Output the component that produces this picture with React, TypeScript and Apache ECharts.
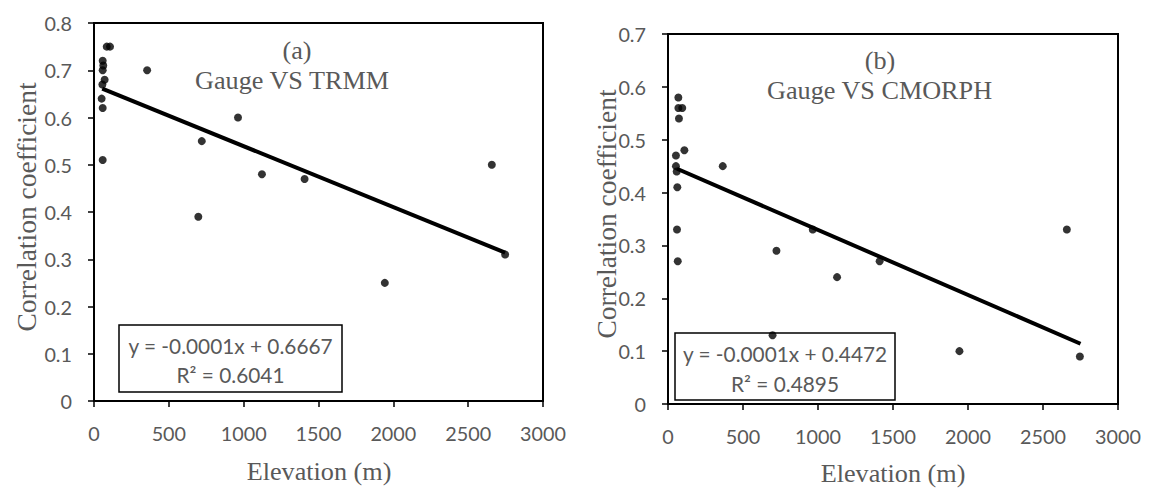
import React, { useEffect, useRef } from "react";
import * as echarts from "echarts";

// Chart (a): Gauge VS TRMM
const elevA = [85, 107, 58, 62, 58, 71, 56, 51, 58, 58, 355, 697, 720, 962, 1122, 1407, 1943, 2658, 2747];
const corrA = [0.75, 0.75, 0.72, 0.71, 0.7, 0.68, 0.67, 0.64, 0.62, 0.51, 0.7, 0.39, 0.55, 0.6, 0.48, 0.47, 0.25, 0.5, 0.31];
const trendAX = [55, 2747];
const trendAY = [0.661, 0.314];

// Chart (b): Gauge VS CMORPH
const elevB = [69, 69, 95, 73, 109, 53, 53, 58, 62, 60, 65, 365, 697, 723, 965, 1127, 1411, 1943, 2659, 2746];
const corrB = [0.58, 0.56, 0.56, 0.54, 0.48, 0.47, 0.45, 0.44, 0.41, 0.33, 0.27, 0.45, 0.13, 0.29, 0.33, 0.24, 0.27, 0.1, 0.33, 0.09];
const trendBX = [60, 2750];
const trendBY = [0.445, 0.114];

const xMin = 0;
const xMax = 3000;
const xStep = 500;
const yMaxA = 0.8;
const yMaxB = 0.7;
const yStep = 0.1;

const eqA = ["y = -0.0001x + 0.6667", "R² = 0.6041"];
const eqB = ["y = -0.0001x + 0.4472", "R² = 0.4895"];

const SANS = "Lato, 'Open Sans', sans-serif";
const SERIF = "'Liberation Serif', 'DejaVu Serif', serif";
const GRAY = "#595959";

function measure(text: string, family: string) {
  const ctx = document.createElement("canvas").getContext("2d");
  if (!ctx) return 0;
  ctx.font = `100px ${family}`;
  return ctx.measureText(text).width;
}
function fit(text: string, family: string, target: number, fallback: number) {
  const w = measure(text, family);
  if (!w) return fallback;
  return Math.round((target / w) * 1000) / 10;
}

function xAxisCfg(gridIndex: number, fs: number) {
  return {
    type: "value",
    gridIndex,
    min: xMin,
    max: xMax,
    interval: xStep,
    axisLine: { show: true, lineStyle: { color: "#000", width: 2 } },
    axisTick: { show: true, inside: false, length: 6, lineStyle: { color: "#000", width: 1.5 } },
    axisLabel: { color: GRAY, fontFamily: SANS, fontSize: fs, margin: 22, formatter: (v: number) => String(v) },
    splitLine: { show: false },
  };
}

function yAxisCfg(gridIndex: number, max: number, fs: number) {
  return {
    type: "value",
    gridIndex,
    min: 0,
    max,
    interval: yStep,
    axisLine: { show: true, lineStyle: { color: "#000", width: 2 } },
    axisTick: { show: true, inside: false, length: 6, lineStyle: { color: "#000", width: 1.5 } },
    axisLabel: {
      color: GRAY,
      fontFamily: SANS,
      fontSize: fs,
      margin: 22,
      formatter: (v: number) => (v === 0 ? "0" : String(Math.round(v * 10) / 10)),
    },
    splitLine: { show: false },
  };
}

function pairs(xs: number[], ys: number[]) {
  return xs.map((x, i) => [x, ys[i]]);
}

export default function App() {
  const ref = useRef<HTMLDivElement>(null);
  useEffect(() => {
    if (!ref.current) return;
    const tickFs = fit("1000", SANS, 46, 22);
    const eqFs = fit(eqA[0], SANS, 205, 23);
    const titleFs = fit("Elevation (m)", SERIF, 145, 26);
    const corrFs = fit("Correlation coefficient", SERIF, 249, 27);
    const chart = echarts.init(ref.current, undefined, { renderer: "svg" });
    const serif = (s: number) => `${s}px ${SERIF}`;
    const option = {
      animation: false,
      backgroundColor: "#fff",
      grid: [
        { left: 94, top: 23, width: 449, height: 378, show: true, borderColor: "#000", borderWidth: 2, backgroundColor: "transparent" },
        { left: 668, top: 34, width: 450, height: 370, show: true, borderColor: "#000", borderWidth: 2, backgroundColor: "transparent" },
      ],
      xAxis: [xAxisCfg(0, tickFs), xAxisCfg(1, tickFs)],
      yAxis: [yAxisCfg(0, yMaxA, tickFs), yAxisCfg(1, yMaxB, tickFs)],
      series: [
        {
          type: "line",
          xAxisIndex: 0,
          yAxisIndex: 0,
          data: pairs(trendAX, trendAY),
          showSymbol: false,
          symbol: "none",
          lineStyle: { color: "#000", width: 4 },
          z: 3,
        },
        {
          type: "scatter",
          xAxisIndex: 0,
          yAxisIndex: 0,
          data: pairs(elevA, corrA),
          symbolSize: 8,
          itemStyle: { color: "#000" },
          z: 4,
        },
        {
          type: "line",
          xAxisIndex: 1,
          yAxisIndex: 1,
          data: pairs(trendBX, trendBY),
          showSymbol: false,
          symbol: "none",
          lineStyle: { color: "#000", width: 4 },
          z: 3,
        },
        {
          type: "scatter",
          xAxisIndex: 1,
          yAxisIndex: 1,
          data: pairs(elevB, corrB),
          symbolSize: 8,
          itemStyle: { color: "#000" },
          z: 4,
        },
      ],
      graphic: [
        // axis titles
        { type: "text", x: 319, y: 471, style: { text: "Elevation (m)", font: serif(titleFs), fill: GRAY, align: "center", verticalAlign: "middle" } },
        { type: "text", x: 893, y: 473, style: { text: "Elevation (m)", font: serif(titleFs), fill: GRAY, align: "center", verticalAlign: "middle" } },
        { type: "text", x: 26, y: 207, rotation: Math.PI / 2, style: { text: "Correlation coefficient", font: serif(corrFs), fill: GRAY, align: "center", verticalAlign: "middle" } },
        { type: "text", x: 606, y: 214, rotation: Math.PI / 2, style: { text: "Correlation coefficient", font: serif(corrFs), fill: GRAY, align: "center", verticalAlign: "middle" } },
        // panel titles
        { type: "text", x: 297, y: 50, style: { text: "(a)", font: serif(titleFs), fill: GRAY, align: "center", verticalAlign: "middle" } },
        { type: "text", x: 195, y: 80, style: { text: "Gauge VS TRMM", font: serif(titleFs), fill: GRAY, align: "left", verticalAlign: "middle" } },
        { type: "text", x: 880, y: 60, style: { text: "(b)", font: serif(titleFs), fill: GRAY, align: "center", verticalAlign: "middle" } },
        { type: "text", x: 767, y: 90, style: { text: "Gauge VS CMORPH", font: serif(titleFs), fill: GRAY, align: "left", verticalAlign: "middle" } },
        // equation boxes
        { type: "rect", shape: { x: 119, y: 325, width: 223, height: 67 }, style: { fill: "#fff", stroke: "#000", lineWidth: 1.5 }, z: 1 },
        { type: "text", x: 230.5, y: 345, z: 2, style: { text: eqA[0], font: `${eqFs}px ${SANS}`, fill: GRAY, align: "center", verticalAlign: "middle" } },
        { type: "text", x: 230.5, y: 374, z: 2, style: { text: eqA[1], font: `${eqFs}px ${SANS}`, fill: GRAY, align: "center", verticalAlign: "middle" } },
        { type: "rect", shape: { x: 675, y: 333, width: 220, height: 67 }, style: { fill: "#fff", stroke: "#000", lineWidth: 1.5 }, z: 1 },
        { type: "text", x: 785, y: 353, z: 2, style: { text: eqB[0], font: `${eqFs}px ${SANS}`, fill: GRAY, align: "center", verticalAlign: "middle" } },
        { type: "text", x: 785, y: 383, z: 2, style: { text: eqB[1], font: `${eqFs}px ${SANS}`, fill: GRAY, align: "center", verticalAlign: "middle" } },
      ],
    };
    chart.setOption(option as any);
    return () => chart.dispose();
  }, []);
  return (
    <div
      ref={ref}
      style={{ position: "absolute", left: 0, top: 0, width: 1160, height: 491, background: "#fff" }}
    />
  );
}
